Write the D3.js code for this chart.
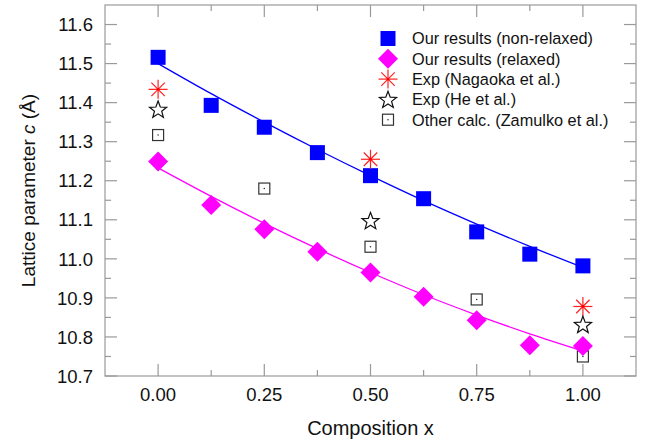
<!DOCTYPE html>
<html lang="en">
<head>
<meta charset="utf-8">
<title>Lattice parameter c vs composition</title>
<script src="https://d3js.org/d3.v7.min.js"></script>
<style>
  body { margin: 0; background: #fff; }
  svg text { font-family: "Liberation Sans", Arial, sans-serif; fill: #111; }
</style>
</head>
<body>
<div id="chart"></div>
<script>
// composition values (x)
var comp = [0, 0.125, 0.25, 0.375, 0.5, 0.625, 0.75, 0.875, 1.0];

// our results
var nonRelaxed = [11.516, 11.393, 11.337, 11.272, 11.213, 11.154, 11.069, 11.012, 10.982];
var relaxed    = [11.249, 11.138, 11.076, 11.018, 10.965, 10.903, 10.843, 10.779, 10.777];

// fitted curves at the same compositions
var fitNonRelaxed = [11.500, 11.423, 11.350, 11.280, 11.213, 11.149, 11.089, 11.032, 10.978];
var fitRelaxed    = [11.233, 11.160, 11.091, 11.026, 10.965, 10.908, 10.856, 10.808, 10.764];

// reference data
var nagaokaX = [0, 0.5, 1.0],          nagaokaC = [11.434, 11.255, 10.878];
var heX = [0, 0.5, 1.0],               heC = [11.383, 11.098, 10.832];
var zamulkoX = [0, 0.25, 0.5, 0.75, 1.0], zamulkoC = [11.317, 11.180, 11.031, 10.896, 10.750];

var xTicks = [0, 0.25, 0.5, 0.75, 1.0];
var xMinor = [0.125, 0.375, 0.625, 0.875];
var yTicks = [10.7, 10.8, 10.9, 11.0, 11.1, 11.2, 11.3, 11.4, 11.5, 11.6];
var yMinor = [10.75, 10.85, 10.95, 11.05, 11.15, 11.25, 11.35, 11.45, 11.55];

var legendLabels = ["Our results (non-relaxed)", "Our results (relaxed)",
  "Exp (Nagaoka et al.)", "Exp (He et al.)", "Other calc. (Zamulko et al.)"];

var W = 654, H = 443;
var L = 105, R = 636, T = 5, B = 376;

var svg = d3.select("#chart").append("svg").attr("width", W).attr("height", H);

var x = d3.scaleLinear().domain([-0.125, 1.125]).range([L, R]);
var y = d3.scaleLinear().domain([10.7, 11.65]).range([B, T]);

var axisCol = "#9a9a9a";

// frame
svg.append("rect").attr("x", L).attr("y", T).attr("width", R - L).attr("height", B - T)
  .attr("fill", "none").attr("stroke", axisCol).attr("stroke-width", 1.2);

// inward ticks, all four sides
function tickLines(vals, len, horizontal) {
  vals.forEach(function (v) {
    if (horizontal) {
      svg.append("line").attr("x1", x(v)).attr("x2", x(v)).attr("y1", B).attr("y2", B - len)
        .attr("stroke", axisCol).attr("stroke-width", 1.2);
      svg.append("line").attr("x1", x(v)).attr("x2", x(v)).attr("y1", T).attr("y2", T + len)
        .attr("stroke", axisCol).attr("stroke-width", 1.2);
    } else {
      svg.append("line").attr("y1", y(v)).attr("y2", y(v)).attr("x1", L).attr("x2", L + len)
        .attr("stroke", axisCol).attr("stroke-width", 1.2);
      svg.append("line").attr("y1", y(v)).attr("y2", y(v)).attr("x1", R).attr("x2", R - len)
        .attr("stroke", axisCol).attr("stroke-width", 1.2);
    }
  });
}
tickLines(xTicks, 12, true);
tickLines(xMinor, 6, true);
tickLines(yTicks, 12, false);
tickLines(yMinor, 6, false);

// tick labels
svg.selectAll(".xl").data(xTicks).enter().append("text")
  .attr("x", function (d) { return x(d); }).attr("y", 400.5)
  .attr("text-anchor", "middle").style("font-size", "18.5px")
  .text(function (d) { return d3.format(".2f")(d); });

svg.selectAll(".yl").data(yTicks).enter().append("text")
  .attr("x", 93).attr("y", function (d) { return y(d) + 6.7; })
  .attr("text-anchor", "end").style("font-size", "18.5px")
  .text(function (d) { return d3.format(".1f")(d); });

// axis titles
svg.append("text").attr("x", (L + R) / 2).attr("y", 435).attr("text-anchor", "middle")
  .style("font-size", "20px").text("Composition x");

var yt = svg.append("text").attr("transform", "translate(35," + ((T + B) / 2) + ") rotate(-90)")
  .attr("text-anchor", "middle").style("font-size", "19px");
yt.append("tspan").text("Lattice parameter ");
yt.append("tspan").style("font-style", "italic").text("c");
yt.append("tspan").text(" (\u00C5)");

// fit curves
var line = d3.line().curve(d3.curveMonotoneX)
  .x(function (d) { return x(d[0]); }).y(function (d) { return y(d[1]); });
svg.append("path").attr("d", line(d3.zip(comp, fitNonRelaxed)))
  .attr("fill", "none").attr("stroke", "#0000ff").attr("stroke-width", 1.3);
svg.append("path").attr("d", line(d3.zip(comp, fitRelaxed)))
  .attr("fill", "none").attr("stroke", "#ff00ff").attr("stroke-width", 1.3);

// marker drawers
function square(g) {
  g.append("rect").attr("x", -7.5).attr("y", -7.5).attr("width", 15).attr("height", 15)
    .attr("fill", "#0000ff");
}
function diamond(g) {
  g.append("path").attr("d", "M0,-10L10,0L0,10L-10,0Z").attr("fill", "#ff00ff");
}
function asterisk(g) {
  var r = 9.5;
  for (var i = 0; i < 4; i++) {
    var a = i * Math.PI / 4;
    g.append("line").attr("x1", -r * Math.cos(a)).attr("y1", -r * Math.sin(a))
      .attr("x2", r * Math.cos(a)).attr("y2", r * Math.sin(a))
      .attr("stroke", "#ff2020").attr("stroke-width", 1.2);
  }
  g.append("circle").attr("r", 1.4).attr("fill", "#ff0000");
}
function star(g) {
  var pts = [], ro = 9, ri = 3.8;
  for (var i = 0; i < 10; i++) {
    var rr = i % 2 ? ri : ro, a = -Math.PI / 2 + i * Math.PI / 5;
    pts.push([rr * Math.cos(a), rr * Math.sin(a) + 0.8]);
  }
  g.append("path").attr("d", "M" + pts.join("L") + "Z")
    .attr("fill", "none").attr("stroke", "#111").attr("stroke-width", 1.2);
}
function openSquare(g) {
  g.append("rect").attr("x", -5.5).attr("y", -5.5).attr("width", 11).attr("height", 11)
    .attr("fill", "#fff").attr("stroke", "#333").attr("stroke-width", 1.2);
  g.append("circle").attr("r", 0.8).attr("fill", "#333");
}

function plot(xs, ys, draw) {
  xs.forEach(function (xv, i) {
    var g = svg.append("g").attr("transform", "translate(" + x(xv) + "," + y(ys[i]) + ")");
    draw(g);
  });
}
plot(zamulkoX, zamulkoC, openSquare);
plot(comp, nonRelaxed, square);
plot(comp, relaxed, diamond);
plot(nagaokaX, nagaokaC, asterisk);
plot(heX, heC, star);

// legend
var drawers = [square, diamond, asterisk, star, openSquare];
legendLabels.forEach(function (lab, i) {
  var yy = 38.5 + i * 20.3;
  var g = svg.append("g").attr("transform", "translate(388," + yy + ")");
  drawers[i](g);
  svg.append("text").attr("x", 412).attr("y", yy + 5.8).style("font-size", "16.3px").text(lab);
});
</script>
</body>
</html>
